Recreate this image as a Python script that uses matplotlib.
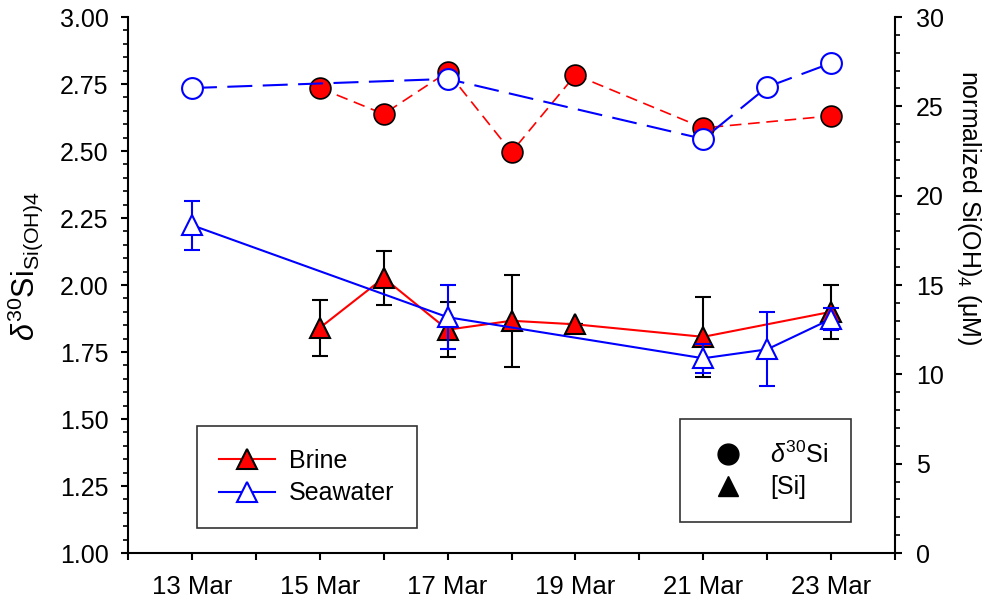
import matplotlib
matplotlib.use("Agg")
import matplotlib.pyplot as plt
from matplotlib.lines import Line2D
from matplotlib.ticker import MultipleLocator

plt.rcParams['font.family'] = ['Liberation Sans', 'DejaVu Sans']
plt.rcParams['mathtext.fontset'] = 'custom'
plt.rcParams['mathtext.rm'] = 'Liberation Sans'
plt.rcParams['mathtext.it'] = 'Liberation Sans:italic'

# day of March
brine_d30_days = [15, 16, 17, 18, 19, 21, 23]
brine_d30 = [2.735, 2.638, 2.795, 2.496, 2.784, 2.586, 2.631]
sea_d30_days = [13, 17, 21, 22, 23]
sea_d30 = [2.735, 2.769, 2.545, 2.739, 2.828]

brine_si_days = [15, 16, 17, 18, 19, 21, 23]
brine_si = [12.6, 15.4, 12.5, 13.0, 12.8, 12.1, 13.5]
brine_si_err = [1.55, 1.5, 1.55, 2.57, 0.0, 2.24, 1.5]
sea_si_days = [13, 17, 21, 22, 23]
sea_si = [18.35, 13.2, 10.9, 11.4, 13.1]
sea_si_err = [1.37, 1.8, 0.8, 2.07, 0.6]

xtick_days = [13, 15, 17, 19, 21, 23]
xtick_labels = ["13 Mar", "15 Mar", "17 Mar", "19 Mar", "21 Mar", "23 Mar"]

fig = plt.figure(figsize=(9.97, 6.10), dpi=100)
ax = fig.add_axes([0.1284, 0.0934, 0.7693, 0.8787])
ax2 = ax.twinx()

# delta 30 Si (left axis)
ax.plot(brine_d30_days, brine_d30, color='red', lw=1.2, dashes=(7, 4),
        marker='o', ms=15, mfc='red', mec='black', mew=1.2, zorder=3)
ax.plot(sea_d30_days, sea_d30, color='blue', lw=1.5, dashes=(12, 5),
        marker='o', ms=15, mfc='white', mec='blue', mew=1.5, zorder=4)

# [Si] (right axis)
ax2.errorbar(brine_si_days, brine_si, yerr=brine_si_err, color='red', lw=1.5,
             marker='^', ms=15, mfc='red', mec='black', mew=1.5,
             ecolor='black', elinewidth=1.5, capsize=6, capthick=1.5, zorder=3)
ax2.errorbar(sea_si_days, sea_si, yerr=sea_si_err, color='blue', lw=1.5,
             marker='^', ms=15, mfc='white', mec='blue', mew=1.5,
             ecolor='blue', elinewidth=1.5, capsize=6, capthick=1.5, zorder=4)

ax.set_xlim(12, 24)
ax.set_ylim(1.0, 3.0)
ax2.set_ylim(0, 30)

ax.set_xticks(range(12, 25))
ax.set_xticklabels([xtick_labels[xtick_days.index(d)] if d in xtick_days else ""
                    for d in range(12, 25)])
ax.yaxis.set_major_locator(MultipleLocator(0.25))
ax.yaxis.set_minor_locator(MultipleLocator(0.05))
ax.yaxis.set_major_formatter(matplotlib.ticker.FormatStrFormatter('%.2f'))
ax2.yaxis.set_major_locator(MultipleLocator(5))
ax2.yaxis.set_minor_locator(MultipleLocator(1))

for a in (ax, ax2):
    a.spines['top'].set_visible(False)
    for s in a.spines.values():
        s.set_linewidth(1.5)
ax.spines['right'].set_visible(False)
ax2.spines['left'].set_visible(False)
ax2.spines['bottom'].set_visible(False)

ax.tick_params(axis='x', direction='out', length=5, width=1.5, labelsize=18.5, pad=11)
ax.tick_params(axis='y', which='major', direction='out', length=5, width=1.5,
               labelsize=18, pad=9)
ax.tick_params(axis='y', which='minor', direction='out', length=3.5, width=1.2)
ax2.tick_params(axis='y', which='major', direction='out', length=5, width=1.5,
                labelsize=18, pad=10)
ax2.tick_params(axis='y', which='minor', direction='out', length=3.5, width=1.2)

ax.set_ylabel(r'$\delta^{30}$Si$_{\mathrm{Si(OH)4}}$', fontsize=22)
ax.yaxis.set_label_coords(-0.108, 0.535)
ax2.set_ylabel(r'normalized Si(OH)$_4$ ($\mathrm{\mu}$M)', fontsize=18,
               rotation=270)
ax2.yaxis.set_label_coords(1.115, 0.644)

h1 = [Line2D([], [], color='red', lw=1.5, marker='^', ms=15, mfc='red', mec='black', mew=1.5),
      Line2D([], [], color='blue', lw=1.5, marker='^', ms=15, mfc='white', mec='blue', mew=1.5)]
leg1 = ax2.legend(h1, ['Brine', 'Seawater'], loc='lower left',
                  bbox_to_anchor=(0.0896, 0.047), fontsize=18, frameon=True,
                  fancybox=False, edgecolor='black', borderpad=0.9,
                  handlelength=2.25, handletextpad=0.55, labelspacing=0.35,
                  borderaxespad=0)
leg1.get_frame().set_linewidth(1.2)
leg1.set_zorder(10)

h2 = [Line2D([], [], ls='none', marker='o', ms=15, color='black'),
      Line2D([], [], ls='none', marker='^', ms=15, color='black')]
leg2 = ax2.legend(h2, [r'$\delta^{30}$Si', '[Si]'], loc='lower left',
                  bbox_to_anchor=(0.72, 0.058), fontsize=18, frameon=True,
                  fancybox=False, edgecolor='black', borderpad=0.9,
                  handlelength=2.0, handletextpad=0.7, labelspacing=0.3,
                  borderaxespad=0)
leg2.get_frame().set_linewidth(1.2)
ax2.add_artist(leg1)

fig.savefig('out.png', dpi=100)
